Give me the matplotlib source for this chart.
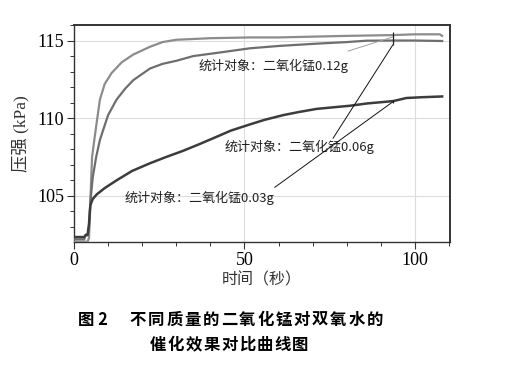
import matplotlib
matplotlib.use("Agg")
import matplotlib.pyplot as plt
from matplotlib.ticker import MultipleLocator

# ---- data ----
t12 = [0, 1, 2, 3, 4.0, 4.4, 4.8, 5.3, 6.2, 7.6, 9, 11, 14, 17.4, 22.3, 26, 30, 35, 40,
       51.6, 60, 70, 80, 93.5, 100, 107.3, 108]
p12 = [102.05, 102.05, 102.05, 102.05, 102.05, 102.3, 104.7, 107.5, 109.0, 111.2, 112.2,
       112.9, 113.6, 114.1, 114.6, 114.9, 115.05, 115.1, 115.15, 115.2, 115.2, 115.25,
       115.3, 115.35, 115.4, 115.4, 115.3]

t06 = [0, 1, 2, 3, 3.3, 4.0, 4.4, 4.8, 5.5, 6.5, 7.6, 10, 12.5, 15, 17.4, 22.3, 26, 30.1,
       35, 41.8, 51.6, 60, 71.2, 80, 85.8, 93.5, 100, 108]
p06 = [102.2, 102.2, 102.2, 102.2, 102.45, 102.45, 103.0, 104.6, 106.2, 107.5, 108.6,
       110.2, 111.2, 111.9, 112.45, 113.2, 113.5, 113.7, 114.0, 114.2, 114.5, 114.65,
       114.8, 114.9, 114.99, 115.0, 115.0, 114.97]

t03 = [0, 1, 2, 3, 3.5, 4.0, 4.4, 4.8, 5.5, 6.7, 9, 12.5, 17, 22.3, 27, 32, 37, 41.8, 46,
       51.6, 56, 61.4, 66, 71.2, 76, 80.9, 86, 93.6, 97.5, 102, 108]
p03 = [102.35, 102.35, 102.35, 102.35, 102.5, 102.5, 103.2, 104.4, 104.8, 105.1, 105.5,
       106.0, 106.6, 107.1, 107.5, 107.9, 108.35, 108.8, 109.2, 109.6, 109.9, 110.2,
       110.4, 110.6, 110.7, 110.8, 110.95, 111.1, 111.3, 111.35, 111.4]

labels = ["统计对象：二氧化锰0.12g", "统计对象：二氧化锰0.06g", "统计对象：二氧化锰0.03g"]
label_xy = [(36.4, 113.35), (44.3, 108.15), (14.7, 104.84)]
leader_from = [(80.4, 114.32), (76.0, 108.71), (58.9, 105.55)]
leader_to = [(93.5, 115.23), (93.5, 114.71), (93.5, 111.05)]
leader_colors = ["#a0a0a0", "#111111", "#111111"]
stat_t = 93.5
stat_marks = [(114.7, 115.57), (110.95, 111.2)]

xticks = [0, 50, 100]
yticks = [105, 110, 115]

caption1_head = "图 2"
caption1 = "不同质量的二氧化锰对双氧水的"
caption2 = "催化效果对比曲线图"

# ---- figure ----
W, H = 505, 366
fig = plt.figure(figsize=(W / 100, H / 100), dpi=100)
ax = fig.add_axes([74/W, 1-242/H, (450-74)/W, (242-25)/H])

ax.plot(t12, p12, color="#8c8c8c", lw=1.6, zorder=3)
ax.plot(t06, p06, color="#6e6e6e", lw=1.6, zorder=3)
ax.plot(t03, p03, color="#3c3c3c", lw=1.8, zorder=3)

for (lx, ly), txt in zip(label_xy, labels):
    ax.text(lx, ly, txt, fontsize=9.4, color="#222222", va="center", ha="left",
            family=["Noto Sans CJK SC", "DejaVu Sans"], zorder=4)

for (fx, fy), (tx, ty), c in zip(leader_from, leader_to, leader_colors):
    ax.plot([fx, tx], [fy, ty], color=c, lw=0.7, zorder=5)

for lo, hi in stat_marks:
    ax.vlines(stat_t, lo, hi, color="#222222", lw=0.9, zorder=5)

ax.set_xlim(0, 110.3)
ax.set_ylim(102.03, 116.0)
ax.set_xticks(xticks)
ax.set_yticks(yticks)
ax.xaxis.set_minor_locator(MultipleLocator(10))
ax.yaxis.set_minor_locator(MultipleLocator(1))
ax.grid(True, which="major", color="#dcdcdc", lw=0.8, zorder=0)
ax.set_axisbelow(True)

for s in ax.spines.values():
    s.set_color("#333333")
    s.set_linewidth(1.4)
ax.spines["left"].set_linewidth(1.0)
ax.spines["bottom"].set_linewidth(1.0)

ax.tick_params(which="major", direction="out", length=5, width=0.8, color="#333333",
               labelsize=13, pad=2)
ax.tick_params(which="minor", direction="out", length=3, width=0.7, color="#333333")
for lab in ax.get_xticklabels() + ax.get_yticklabels():
    lab.set_family("Liberation Serif")

ax.set_xlabel("时间（秒）", fontsize=11.5, family=["Noto Sans CJK SC", "DejaVu Sans"],
              color="#333333", labelpad=2)
ax.set_ylabel("压强 (kPa)", fontsize=12.5, family=["Liberation Serif", "Noto Sans CJK SC"],
              color="#333333", labelpad=6)

# caption
cap_font = ["Noto Sans CJK SC", "DejaVu Sans"]
fig.text(78/W, 1-320/H, caption1_head, fontsize=11.8, weight="bold", family=cap_font,
         va="center", ha="left")
for i, ch in enumerate(caption1):
    fig.text((130 + 18.2 * i + 8) / W, 1-320/H, ch, fontsize=11.8, weight="bold",
             family=cap_font, va="center", ha="center")
for i, ch in enumerate(caption2):
    fig.text((150 + 17.8 * i + 8) / W, 1-345/H, ch, fontsize=11.8, weight="bold",
             family=cap_font, va="center", ha="center")

fig.savefig("out.png", dpi=100)
